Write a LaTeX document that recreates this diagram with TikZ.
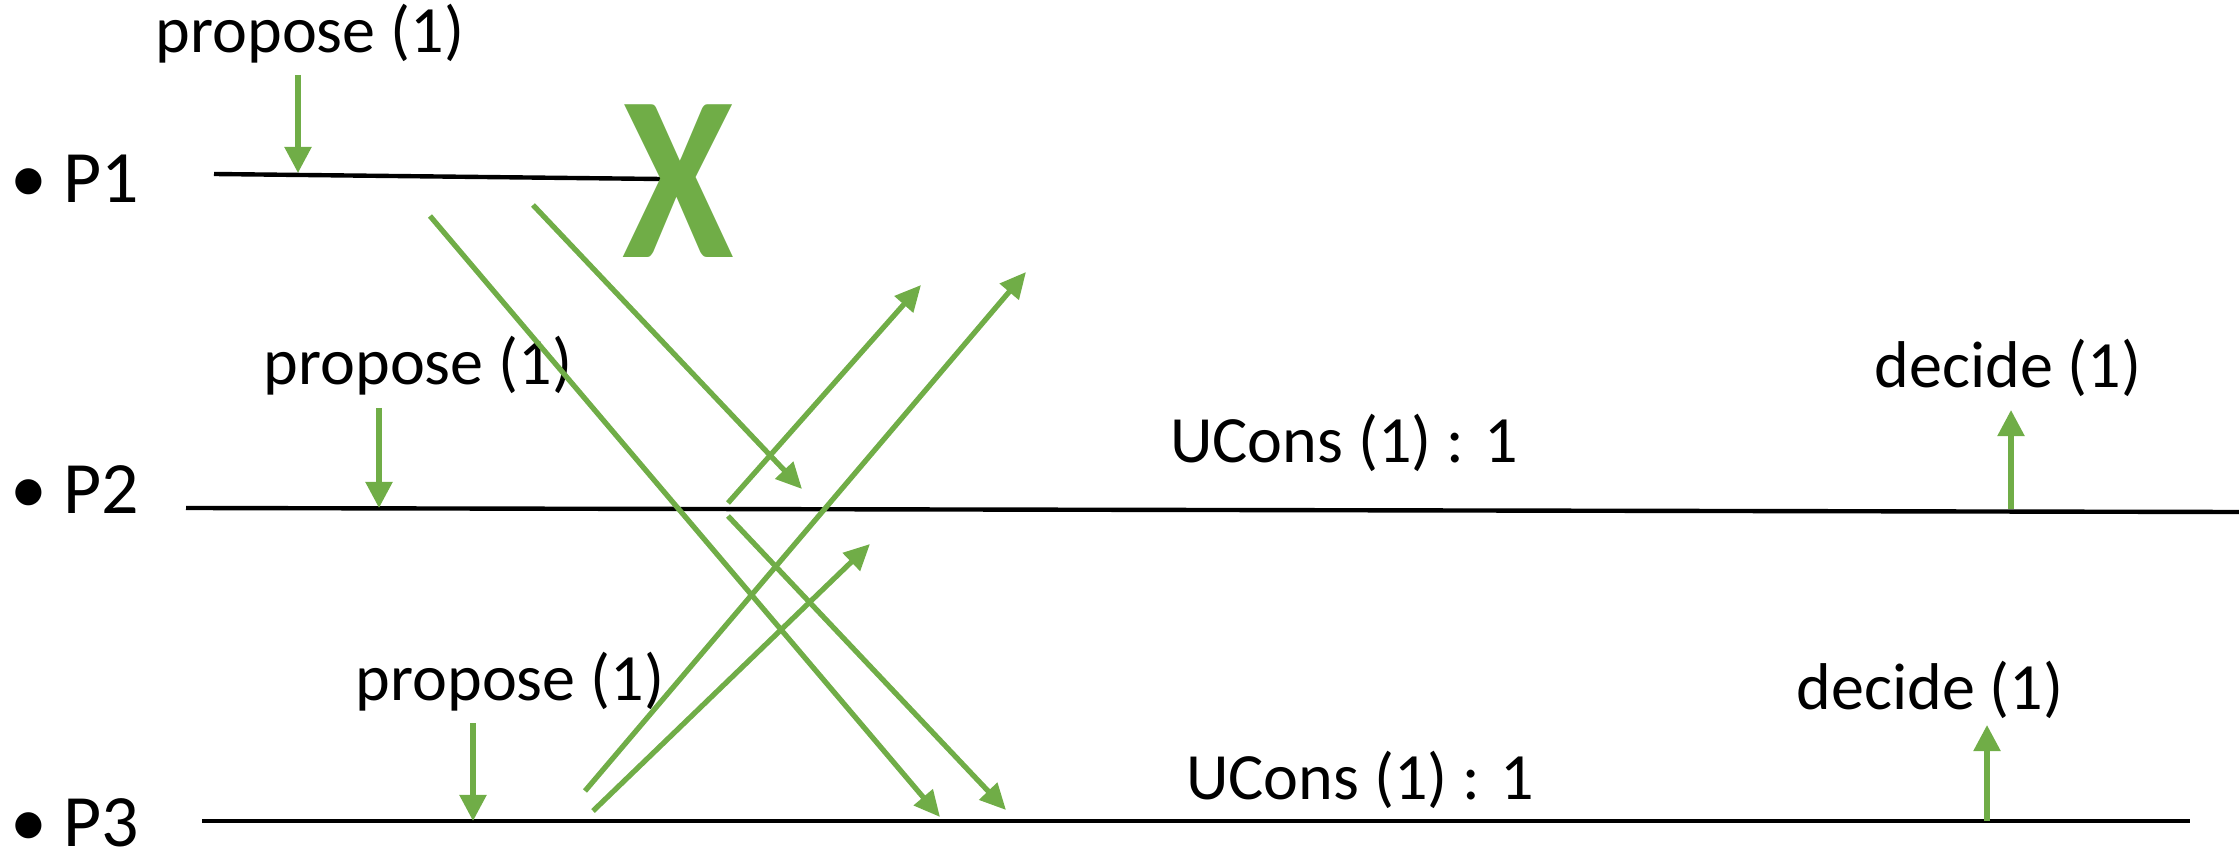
\documentclass[tikz,border=0pt]{standalone}
\usepackage{fontspec}
\setmainfont{Carlito}
\usetikzlibrary{arrows.meta}
\definecolor{ogreen}{HTML}{70AD47}
\begin{document}
\begin{tikzpicture}[x=0.01cm,y=-0.01cm,
  lbl/.style={inner sep=0pt,anchor=base,font=\fontsize{18.8}{22}\selectfont},
  plab/.style={inner sep=0pt,anchor=base west,font=\fontsize{21}{25}\selectfont},
  bul/.style={inner sep=0pt,anchor=base,font=\fontsize{21}{25}\selectfont},
  tline/.style={draw=black,line width=1.25pt},
  msg/.style={draw=ogreen,line width=1.5pt,-{Triangle[length=0.26cm,width=0.24cm]}},
  ev/.style={draw=ogreen,line width=1.5pt,-{Triangle[length=0.26cm,width=0.26cm]}},
  crash/.style={inner sep=0pt,anchor=base,text=ogreen,xscale=0.86,font=\fontsize{67}{70}\selectfont\bfseries}]
\useasboundingbox (0,0) rectangle (2239,855);

% process labels
\node[bul] (b1) at (29,203) {•};
\node[bul] (b2) at (29,514) {•};
\node[bul] (b3) at (29,846) {•};
\node[plab] (p1) at (63,203) {P1};
\node[plab] (p2) at (63,514) {P2};
\node[plab] (p3) at (63,846) {P3};

% timelines
\coordinate (l1s) at (214,174);
\coordinate (l1e) at (661,179);
\coordinate (l2s) at (186,508);
\coordinate (l2e) at (2239,512);
\coordinate (l3s) at (202,821);
\coordinate (l3e) at (2190,821);
\draw[tline] (l1s) -- (l1e);
\draw[tline] (l2s) -- (l2e);
\draw[tline] (l3s) -- (l3e);

% crash
\node[crash] (x) at (678,258) {X};

% propose events
\node[lbl] (pr1) at (310,53) {propose (1)};
\node[lbl] (pr2) at (418,385) {propose (1)};
\node[lbl] (pr3) at (510,700) {propose (1)};
\coordinate (a1s) at (298,75);  \coordinate (a1e) at (298,173);
\coordinate (a2s) at (379,408); \coordinate (a2e) at (379,508);
\coordinate (a3s) at (473,723); \coordinate (a3e) at (473,821);
\draw[ev] (a1s) -- (a1e);
\draw[ev] (a2s) -- (a2e);
\draw[ev] (a3s) -- (a3e);

% messages
\coordinate (m1s) at (430,216);  \coordinate (m1e) at (940,817);
\coordinate (m2s) at (533,205);  \coordinate (m2e) at (802,489);
\coordinate (m3s) at (728,503);  \coordinate (m3e) at (921,285);
\coordinate (m4s) at (728,516);  \coordinate (m4e) at (1006,810);
\coordinate (m5s) at (585,791);  \coordinate (m5e) at (1026,272);
\coordinate (m6s) at (593,811);  \coordinate (m6e) at (870,544);
\draw[msg] (m1s) -- (m1e);
\draw[msg] (m2s) -- (m2e);
\draw[msg] (m3s) -- (m3e);
\draw[msg] (m4s) -- (m4e);
\draw[msg] (m5s) -- (m5e);
\draw[msg] (m6s) -- (m6e);

% UCons labels
\node[lbl] (u2) at (1344,463) {UCons (1) : 1};
\node[lbl] (u3) at (1360,799) {UCons (1) : 1};

% decide events
\node[lbl] (d2) at (2008,388) {decide (1)};
\node[lbl] (d3) at (1930,709) {decide (1)};
\coordinate (d2s) at (2011,509); \coordinate (d2e) at (2011,410);
\coordinate (d3s) at (1987,821); \coordinate (d3e) at (1987,725);
\draw[ev] (d2s) -- (d2e);
\draw[ev] (d3s) -- (d3e);
\end{tikzpicture}
\end{document}
